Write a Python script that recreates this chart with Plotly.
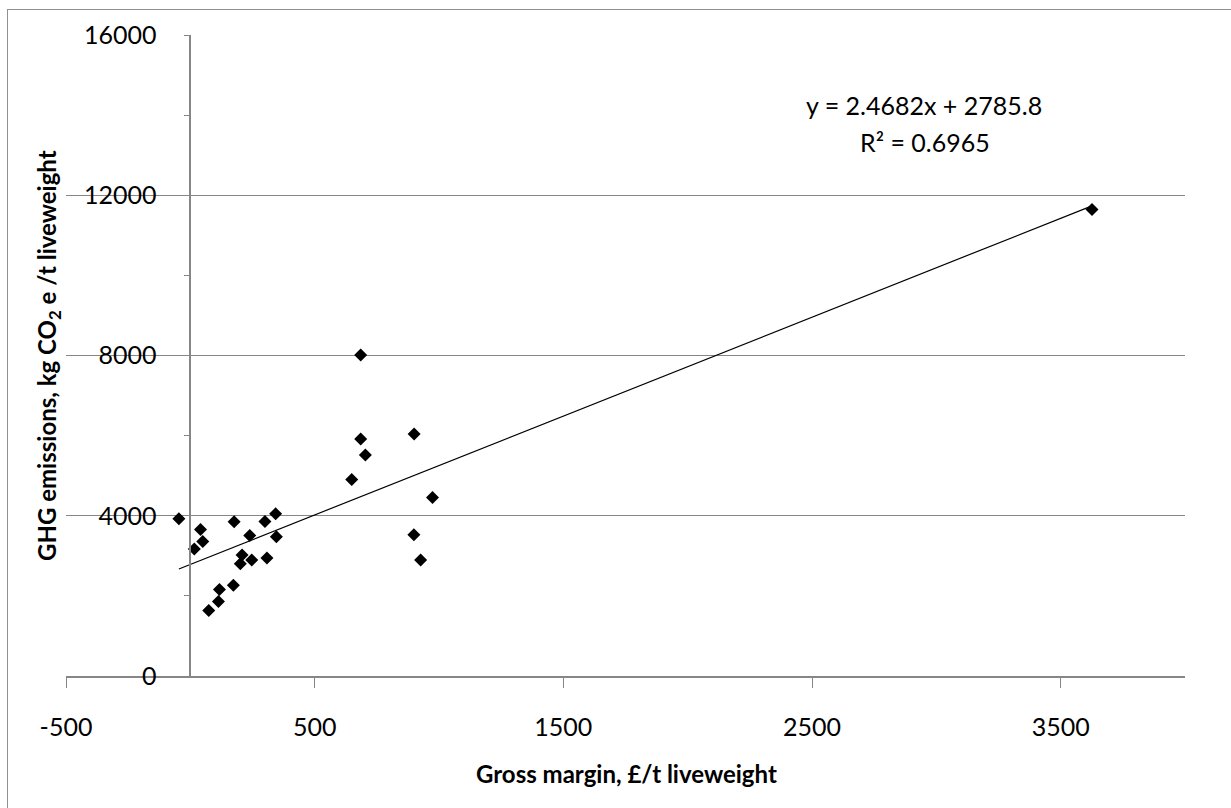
import plotly.graph_objects as go

# ---- data ----
gross_margin = [-46, 41, 50, 16, 176, 239, 300, 343, 346, 208, 201, 247, 308,
                173, 117, 113, 74, 685, 685, 704, 649, 900, 974, 899, 926, 3626]
ghg_emissions = [3924, 3658, 3359, 3167, 3849, 3508, 3857, 4048, 3476, 3018, 2804,
                 2894, 2944, 2264, 2157, 1859, 1635, 8012, 5914, 5516, 4902, 6039,
                 4454, 3526, 2894, 11645]
trend_slope = 2.4682
trend_intercept = 2785.8
r_squared = 0.6965

x_range = [-500, 4000]
y_range = [0, 16000]
x_tickvals = [-500, 500, 1500, 2500, 3500]
y_tickvals = [0, 4000, 8000, 12000, 16000]
y_minor_tickvals = [2000, 6000, 10000, 14000]

# ---- layout geometry (pixels) ----
W, H = 1231, 808
ML, MR, MT, MB = 66, 46, 35, 132
PW = W - ML - MR
PH = H - MT - MB


def px_x(px):
    return (px - ML) / PW


def px_y(py):
    return (H - MB - py) / PH


GRAY = "#868686"
FONT = "Lato"

tx = [min(gross_margin), max(gross_margin)]
ty = [trend_slope * v + trend_intercept for v in tx]

fig = go.Figure()
fig.add_trace(go.Scatter(
    x=tx, y=ty, mode="lines",
    line=dict(color="black", width=1.2),
    hoverinfo="skip", showlegend=False))
fig.add_trace(go.Scatter(
    x=gross_margin, y=ghg_emissions, mode="markers",
    marker=dict(symbol="diamond", size=10, color="black"),
    showlegend=False))

fig.update_layout(
    width=W, height=H,
    margin=dict(l=ML, r=MR, t=MT, b=MB),
    paper_bgcolor="white", plot_bgcolor="white",
    showlegend=False,
    font=dict(family=FONT, color="black", size=25),
    xaxis=dict(
        range=x_range, tickvals=x_tickvals,
        ticktext=[str(v) for v in x_tickvals],
        showgrid=False, zeroline=False,
        showline=True, linecolor=GRAY, linewidth=2,
        ticks="outside", ticklen=10, tickcolor=GRAY, tickwidth=1,
        tickfont=dict(family=FONT, size=25, color="black"),
        ticklabelstandoff=18,
    ),
    yaxis=dict(
        range=y_range, tickvals=y_tickvals,
        ticktext=[str(v) for v in y_tickvals],
        showgrid=True, gridcolor=GRAY, gridwidth=1,
        zeroline=False,
        showline=True, linecolor=GRAY, linewidth=1.5,
        anchor="free",
        position=(0 - x_range[0]) / (x_range[1] - x_range[0]),
        ticks="outside", ticklen=6, tickcolor=GRAY, tickwidth=1,
        minor=dict(tickvals=y_minor_tickvals, ticks="outside",
                   ticklen=6, tickcolor=GRAY, showgrid=False),
        tickfont=dict(family=FONT, size=25, color="black"),
        ticklabelstandoff=22,
    ),
    shapes=[
        dict(type="line", xref="paper", yref="paper",
             x0=px_x(7), x1=px_x(W), y0=px_y(9.5), y1=px_y(9.5),
             line=dict(color="#909090", width=1)),
        dict(type="line", xref="paper", yref="paper",
             x0=px_x(7.5), x1=px_x(7.5), y0=px_y(9), y1=px_y(H),
             line=dict(color="#909090", width=1)),
    ],
    annotations=[
        dict(text="<b>Gross margin, £/t liveweight</b>", xref="paper", yref="paper",
             x=px_x(626), y=px_y(773), xanchor="center", yanchor="middle",
             showarrow=False, font=dict(family=FONT, size=24, color="black")),
        dict(text="<b>GHG emissions, kg CO<sub>2</sub> e /t liveweight</b>",
             xref="paper", yref="paper",
             x=px_x(48), y=px_y(356), xanchor="center", yanchor="middle",
             textangle=-90, showarrow=False,
             font=dict(family=FONT, size=24, color="black")),
        dict(text=f"y = {trend_slope}x + {trend_intercept}", xref="paper", yref="paper",
             x=px_x(924), y=px_y(105), xanchor="center", yanchor="middle",
             showarrow=False, font=dict(family=FONT, size=25, color="black")),
        dict(text=f"R² = {r_squared}", xref="paper", yref="paper",
             x=px_x(925), y=px_y(142), xanchor="center", yanchor="middle",
             showarrow=False, font=dict(family=FONT, size=25, color="black")),
    ],
)

fig.write_html("out.html")
